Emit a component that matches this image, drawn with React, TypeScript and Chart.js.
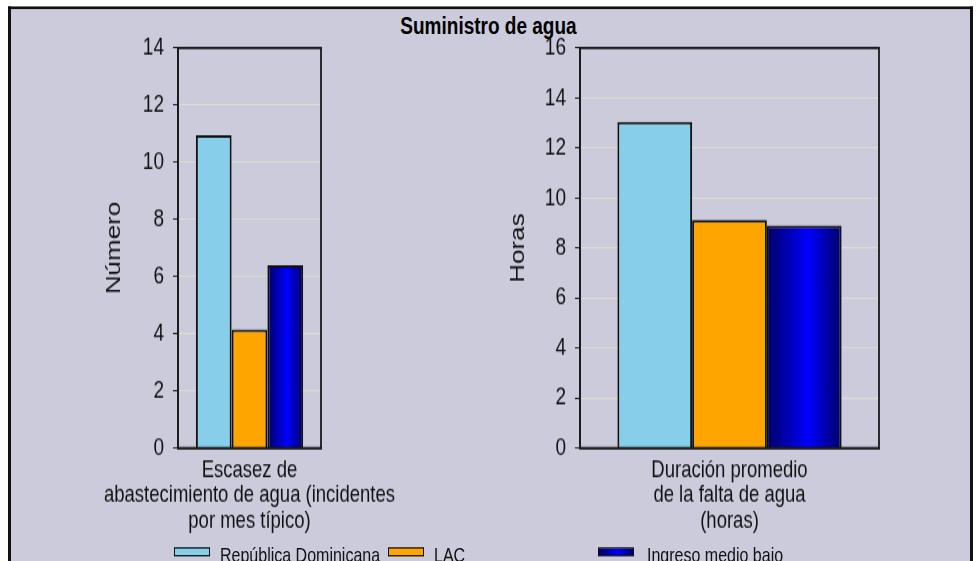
import React, { useEffect, useRef } from 'react';
import { Chart, registerables } from 'chart.js';

Chart.register(...registerables);

// ---- data ----
const titleText = 'Suministro de agua';
const seriesNames = ['República Dominicana', 'LAC', 'Ingreso medio bajo'];
const leftCategories = [['Escasez de', 'abastecimiento de agua (incidentes', 'por mes típico)']];
const rightCategories = [['Duración promedio', 'de la falta de agua', '(horas)']];
const repDomValues = [10.95, 13.05];
const lacValues = [4.15, 9.12];
const ingresoValues = [6.4, 8.9];
const leftTicks = [0, 2, 4, 6, 8, 10, 12, 14];
const rightTicks = [0, 2, 4, 6, 8, 10, 12, 14, 16];
const leftAxisTitle = 'Número';
const rightAxisTitle = 'Horas';

// ---- styles / layout ----
const S = 1.3; // vertical stretch of the whole figure
const FONT = "'Liberation Sans', Arial, sans-serif";
const BG = '#CBCBDC';
const INK = '#111111';
const SKY = '#87CEEB';
const ORANGE = '#FFA500';
const CANVAS_H = 432;
const PLOT_TOP = 48 / S;
const PLOT_BOTTOM = 448 / S;
const XAXIS_H = 70;

function navyGradient(ctx: CanvasRenderingContext2D, left: number, right: number) {
  const g = ctx.createLinearGradient(left, 0, right, 0);
  g.addColorStop(0, '#000066');
  g.addColorStop(0.55, '#0000FF');
  g.addColorStop(1, '#000066');
  return g;
}

const framePlugin = {
  id: 'frame',
  afterDraw(chart: any) {
    const { ctx, chartArea } = chart;
    const { left, top, right, bottom } = chartArea;
    ctx.save();
    ctx.strokeStyle = '#1a1a1a';
    ctx.lineWidth = 1.8;
    ctx.strokeRect(left, top, right - left, bottom - top);
    ctx.restore();
  },
};

type Cfg = {
  index: number;
  categories: string[][];
  ticks: number[];
  axisTitle: string;
  padLeft: number;
  padRight: number;
  yWidth: number;
};

function buildChart(canvas: HTMLCanvasElement, cfg: Cfg) {
  const max = cfg.ticks[cfg.ticks.length - 1];
  const values = [repDomValues, lacValues, ingresoValues];
  const colors: any[] = [
    SKY,
    ORANGE,
    (c: any) => {
      const chart = c.chart;
      const xs = chart.scales.x;
      const area = chart.chartArea;
      if (!xs || !area) return '#0000CC';
      const w = area.right - area.left;
      const center = xs.getPixelForValue(0);
      const left = center + 0.125 * w;
      const right = center + 0.375 * w;
      return navyGradient(chart.ctx, left, right);
    },
  ];
  return new Chart(canvas, {
    type: 'bar',
    data: {
      labels: cfg.categories as any,
      datasets: seriesNames.map((name, k) => ({
        label: name,
        data: [values[k][cfg.index]],
        backgroundColor: colors[k],
        borderColor: '#111111',
        borderWidth: 2,
        barPercentage: 1,
        categoryPercentage: 0.75,
      })),
    },
    options: {
      responsive: false,
      animation: false,
      devicePixelRatio: 1,
      layout: {
        padding: {
          left: cfg.padLeft,
          right: cfg.padRight,
          top: PLOT_TOP,
          bottom: CANVAS_H - PLOT_BOTTOM - XAXIS_H,
        },
      },
      plugins: { legend: { display: false }, tooltip: { enabled: false }, title: { display: false } },
      scales: {
        x: {
          type: 'category',
          grid: { display: false, drawTicks: false },
          border: { display: true, color: '#1a1a1a', width: 1.8 },
          ticks: {
            color: INK,
            font: { family: FONT, size: 18.5, lineHeight: 1.06 },
            padding: 7,
            maxRotation: 0,
            minRotation: 0,
            autoSkip: false,
          },
          afterFit: (scale: any) => {
            scale.height = XAXIS_H;
            scale.paddingLeft = 0;
            scale.paddingRight = 0;
          },
        },
        y: {
          min: 0,
          max,
          grid: { color: '#DCDCCD', lineWidth: 1, tickColor: '#222', tickLength: 5 },
          border: { display: true, color: '#1a1a1a', width: 1.8 },
          ticks: {
            color: INK,
            font: { family: FONT, size: 19 },
            padding: 9,
          },
          afterBuildTicks: (scale: any) => {
            scale.ticks = cfg.ticks.map((v) => ({ value: v }));
          },
          title: {
            display: true,
            text: cfg.axisTitle,
            color: INK,
            font: { family: FONT, size: 20 },
            padding: { top: 4, bottom: 0 },
          },
          afterFit: (scale: any) => {
            scale.width = cfg.yWidth;
            scale.paddingTop = 0;
            scale.paddingBottom = 0;
          },
        },
      },
    },
    plugins: [framePlugin],
  } as any);
}

function BarPanel(props: Cfg & { left: number; width: number }) {
  const ref = useRef<HTMLCanvasElement>(null);
  useEffect(() => {
    if (!ref.current) return;
    const chart = buildChart(ref.current, props);
    return () => chart.destroy();
  }, []);
  return (
    <canvas
      ref={ref}
      width={props.width}
      height={CANVAS_H}
      style={{ position: 'absolute', left: props.left, top: 0 }}
    />
  );
}

const legendBoxX = [174, 388, 598];
const legendTextX = [220, 434, 647];
const legendFills = [SKY, ORANGE, 'linear-gradient(to right, #000066, #0000FF 55%, #000066)'];

export default function App() {
  return (
    <div style={{ position: 'absolute', left: 0, top: 0, width: 977, height: 561, overflow: 'hidden', background: '#fff' }}>
      <div
        style={{
          position: 'absolute',
          left: 0,
          top: 0,
          width: 977,
          height: CANVAS_H,
          transform: `scaleY(${S})`,
          transformOrigin: '0 0',
        }}
      >
        <div
          style={{
            position: 'absolute',
            left: 8,
            top: 6 / S,
            width: 965,
            height: 460,
            boxSizing: 'border-box',
            borderLeft: '3px solid #111',
            borderRight: '3px solid #111',
            borderTop: `${3 / S}px solid #111`,
            background: BG,
          }}
        />
        <div
          style={{
            position: 'absolute',
            left: 0,
            width: 977,
            top: 9.7,
            textAlign: 'center',
            fontFamily: FONT,
            fontWeight: 'bold',
            fontSize: 19,
            lineHeight: '19px',
            color: '#000',
          }}
        >
          {titleText}
        </div>
        <BarPanel
          index={0}
          categories={leftCategories}
          ticks={leftTicks}
          axisTitle={leftAxisTitle}
          left={40}
          width={380}
          padLeft={58}
          padRight={99}
          yWidth={80}
        />
        <BarPanel
          index={1}
          categories={rightCategories}
          ticks={rightTicks}
          axisTitle={rightAxisTitle}
          left={440}
          width={500}
          padLeft={62}
          padRight={61}
          yWidth={78}
        />
        {seriesNames.map((name, i) => (
          <React.Fragment key={name}>
            <div
              style={{
                position: 'absolute',
                left: legendBoxX[i],
                top: 547 / S,
                width: 36,
                height: 7,
                boxSizing: 'border-box',
                border: '1px solid #111',
                background: legendFills[i],
              }}
            />
            <div
              style={{
                position: 'absolute',
                left: legendTextX[i],
                top: 419,
                fontFamily: FONT,
                fontSize: 16,
                lineHeight: '16px',
                color: INK,
                whiteSpace: 'nowrap',
              }}
            >
              {name}
            </div>
          </React.Fragment>
        ))}
      </div>
    </div>
  );
}
